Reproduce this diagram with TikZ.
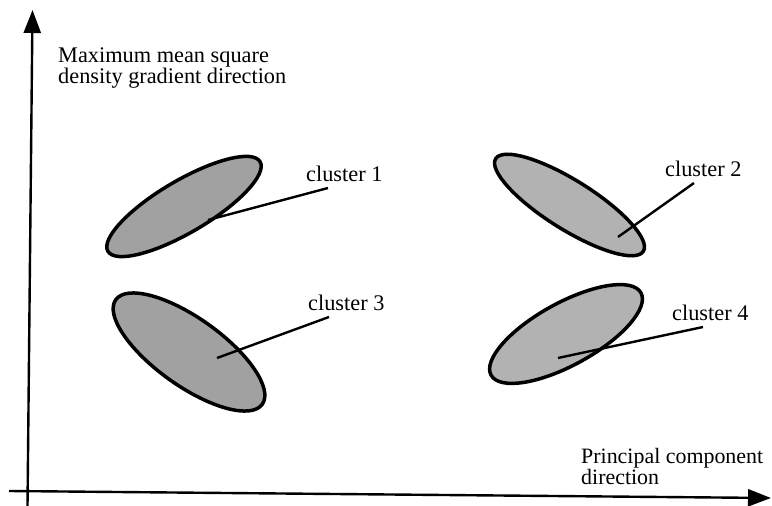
\documentclass[tikz,border=0pt]{standalone}
\usepackage{fontspec}
\setmainfont{Liberation Serif}
\usetikzlibrary{arrows.meta,shapes.geometric}
\definecolor{gA}{gray}{0.63}
\definecolor{gB}{gray}{0.70}
\begin{document}
\begin{tikzpicture}[x=1bp,y=-1bp,
  axis/.style={line width=2.4bp, -{Triangle[width=17bp,length=23bp]}},
  clusterblob/.style={ellipse, draw=black, line width=3.5bp, inner sep=0pt, outer sep=0pt},
  leader/.style={line width=2.4bp},
  lbl/.style={inner sep=0pt, anchor=base west, font=\fontsize{22.4}{22}\selectfont}]
\useasboundingbox (0,0) rectangle (772,506);
\fill[white] (0,0) rectangle (772,506);
% axes
\coordinate (yb) at (27.5,506);
\coordinate (yt) at (32.5,10);
\coordinate (xl) at (9,491);
\coordinate (xr) at (771,498);
\draw[axis] (yb) -- (yt);
\draw[axis] (xl) -- (xr);
% clusters
\node[clusterblob, fill=gA, minimum width=176.6bp, minimum height=52bp, rotate=30.5] (c1) at (184,206.5) {};
\node[clusterblob, fill=gB, minimum width=174.3bp, minimum height=49bp, rotate=-32.1] (c2) at (569.5,205) {};
\node[clusterblob, fill=gA, minimum width=180bp, minimum height=67.5bp, rotate=-35.5] (c3) at (189,352) {};
\node[clusterblob, fill=gB, minimum width=171bp, minimum height=62.3bp, rotate=28.8] (c4) at (566,334) {};
% labels
\node[lbl] (l1) at (306,181.7) {cluster 1};
\node[lbl] (l2) at (665,176.7) {cluster 2};
\node[lbl] (l3) at (308,310) {cluster 3};
\node[lbl] (l4) at (672,320) {cluster 4};
% leaders
\coordinate (p1) at (208,220); \coordinate (q1) at (328,188);
\coordinate (p2) at (618,237); \coordinate (q2) at (694,183);
\coordinate (p3) at (217,358); \coordinate (q3) at (329,317);
\coordinate (p4) at (558,358); \coordinate (q4) at (703,327);
\draw[leader] (p1) -- (q1);
\draw[leader] (p2) -- (q2);
\draw[leader] (p3) -- (q3);
\draw[leader] (p4) -- (q4);
% axis titles (base anchor = last line)
\node[lbl, align=left, font=\fontsize{22.4}{18}\selectfont] (ty) at (58,84) {Maximum mean square\\density gradient direction};
\node[lbl, align=left, font=\fontsize{22}{21}\selectfont] (tx) at (581,484) {Principal component\\direction};
\end{tikzpicture}
\end{document}
